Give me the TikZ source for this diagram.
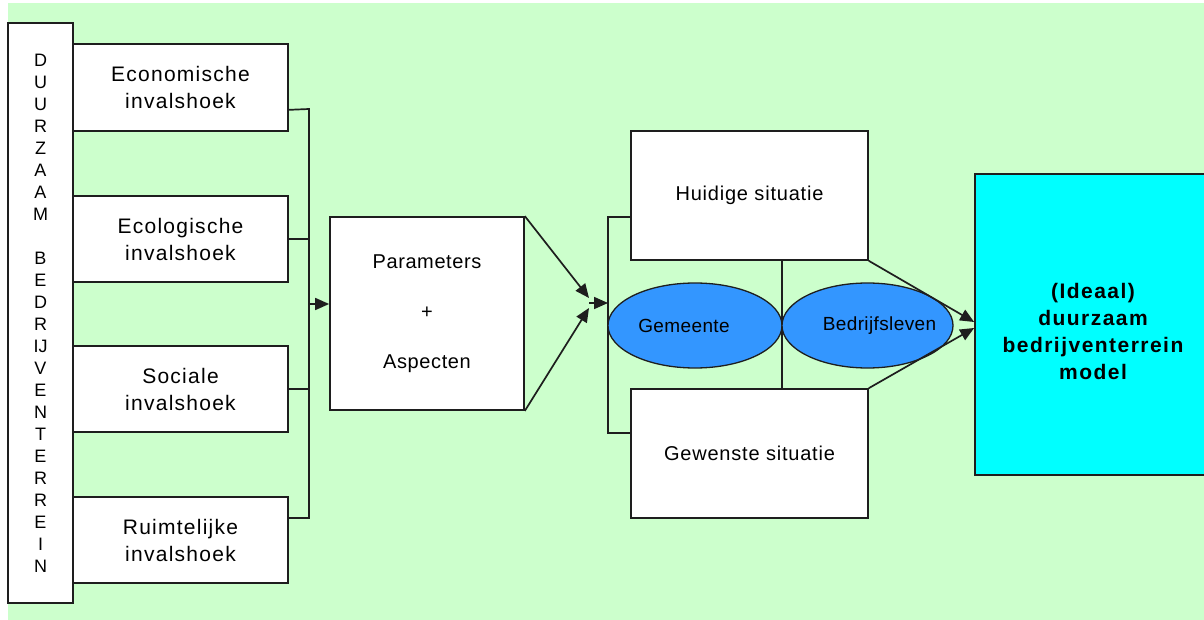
\documentclass[tikz,border=0pt]{standalone}
\usepackage{fontspec}
\setmainfont{Liberation Sans}
\usetikzlibrary{arrows.meta,shapes.geometric,calc}
\definecolor{bggreen}{RGB}{204,255,204}
\definecolor{ovalblue}{RGB}{51,150,255}
\definecolor{modelcyan}{RGB}{0,255,255}
\definecolor{inkline}{RGB}{30,30,30}
\tikzset{
  box/.style={draw=inkline, line width=1.7pt, fill=white, inner sep=0pt,
    align=center, font=\fontsize{20}{27}\selectfont\addfontfeature{LetterSpace=4}},
  viewbox/.style={box, minimum width=215pt,
    font=\fontsize{21}{27}\selectfont\addfontfeature{LetterSpace=6}},
  oval/.style={ellipse, draw=inkline, line width=1.3pt, fill=ovalblue, inner sep=0pt,
    minimum height=85pt},
  ovaltext/.style={font=\fontsize{19}{23}\selectfont\addfontfeature{LetterSpace=2}},
  wire/.style={draw=inkline, line width=1.7pt},
  arrowwire/.style={wire, -{Triangle[length=14pt,width=12pt]}},
}
\begin{document}
\begin{tikzpicture}[x=1pt,y=-1pt]
  \useasboundingbox (0,0) rectangle (1204,620);
  % page background
  \fill[bggreen] (8,3) rectangle (1204,620);

  % vertical title column
  \node[box, minimum width=65pt, minimum height=580pt,
        font=\fontsize{18}{22}\selectfont] (duur) at (40.5,313)
    {D\\U\\U\\R\\Z\\A\\A\\M\\\mbox{}\\B\\E\\D\\R\\IJ\\V\\E\\N\\T\\E\\R\\R\\E\\I\\N};

  % four viewpoints
  \node[viewbox, minimum height=87pt] (eco) at (180.5,87.5) {Economische\\invalshoek};
  \node[viewbox, minimum height=86pt] (ecl) at (180.5,239) {Ecologische\\invalshoek};
  \node[viewbox, minimum height=86pt] (soc) at (180.5,389) {Sociale\\invalshoek};
  \node[viewbox, minimum height=86pt] (rui) at (180.5,540) {Ruimtelijke\\invalshoek};

  % parameters box
  \node[box, minimum width=194pt, minimum height=193pt,
        font=\fontsize{20}{50}\selectfont\addfontfeature{LetterSpace=3}] (par) at (427,313.5)
    {Parameters\\+\\Aspecten};

  % situations
  \node[box, minimum width=237pt, minimum height=129pt] (huid) at (749.5,195.5) {Huidige situatie};
  \node[box, minimum width=237pt, minimum height=129pt] (gew) at (749.5,453.5) {Gewenste situatie};

  % bus from the viewpoints into the parameters box
  \coordinate (bt) at (309,109);
  \coordinate (bb) at (309,518);
  \coordinate (bj) at (309,304);
  \draw[wire] ([yshift=22pt]eco.south east) -- (bt) -- (bb) -- ([yshift=22pt]rui.east);
  \draw[wire] (ecl.east) -- (ecl.east -| bt);
  \draw[wire] (soc.east) -- (soc.east -| bt);
  \draw[arrowwire] (bj) -- (bj -| par.west);

  % merge of the parameters box into the bracket
  \coordinate (mt) at (589,298);
  \coordinate (mb) at (589,308);
  \coordinate (mj) at (589,303);
  \coordinate (kt) at (608,217);
  \coordinate (kb) at (608,433);
  \draw[arrowwire] (par.north east) -- (mt);
  \draw[arrowwire] (par.south east) -- (mb);
  \draw[arrowwire] (mj) -- (mj -| kt);

  % bracket joining both situations
  \draw[wire] (kt -| huid.west) -- (kt) -- (kb) -- (kb -| gew.west);

  % divider between the two situations, behind the actors
  \coordinate (dv) at (782,325.5);
  \draw[wire] (dv |- huid.south) -- (dv |- gew.north);

  % actors
  \node[oval, minimum width=174pt,
        label={[ovaltext, xshift=-11pt]center:Gemeente}] (gem) at (695,325.5) {};
  \node[oval, minimum width=171pt,
        label={[ovaltext, xshift=12pt]center:Bedrijfsleven}] (bed) at (867.5,325.5) {};

  % resulting model
  \node[draw=inkline, line width=1.7pt, fill=modelcyan, minimum width=236pt, minimum height=301pt,
        inner sep=0pt,
        label={[align=center, yshift=-7pt,
                font=\bfseries\fontsize{21}{27}\selectfont\addfontfeature{LetterSpace=7}]center:%
               (Ideaal)\\duurzaam\\bedrijventerrein\\model}] (model) at (1093,324.5) {};

  \draw[arrowwire] (huid.south east) -- ([yshift=2.5pt]model.west);
  \draw[arrowwire] (gew.north east) -- ([yshift=-3.5pt]model.west);
\end{tikzpicture}
\end{document}
